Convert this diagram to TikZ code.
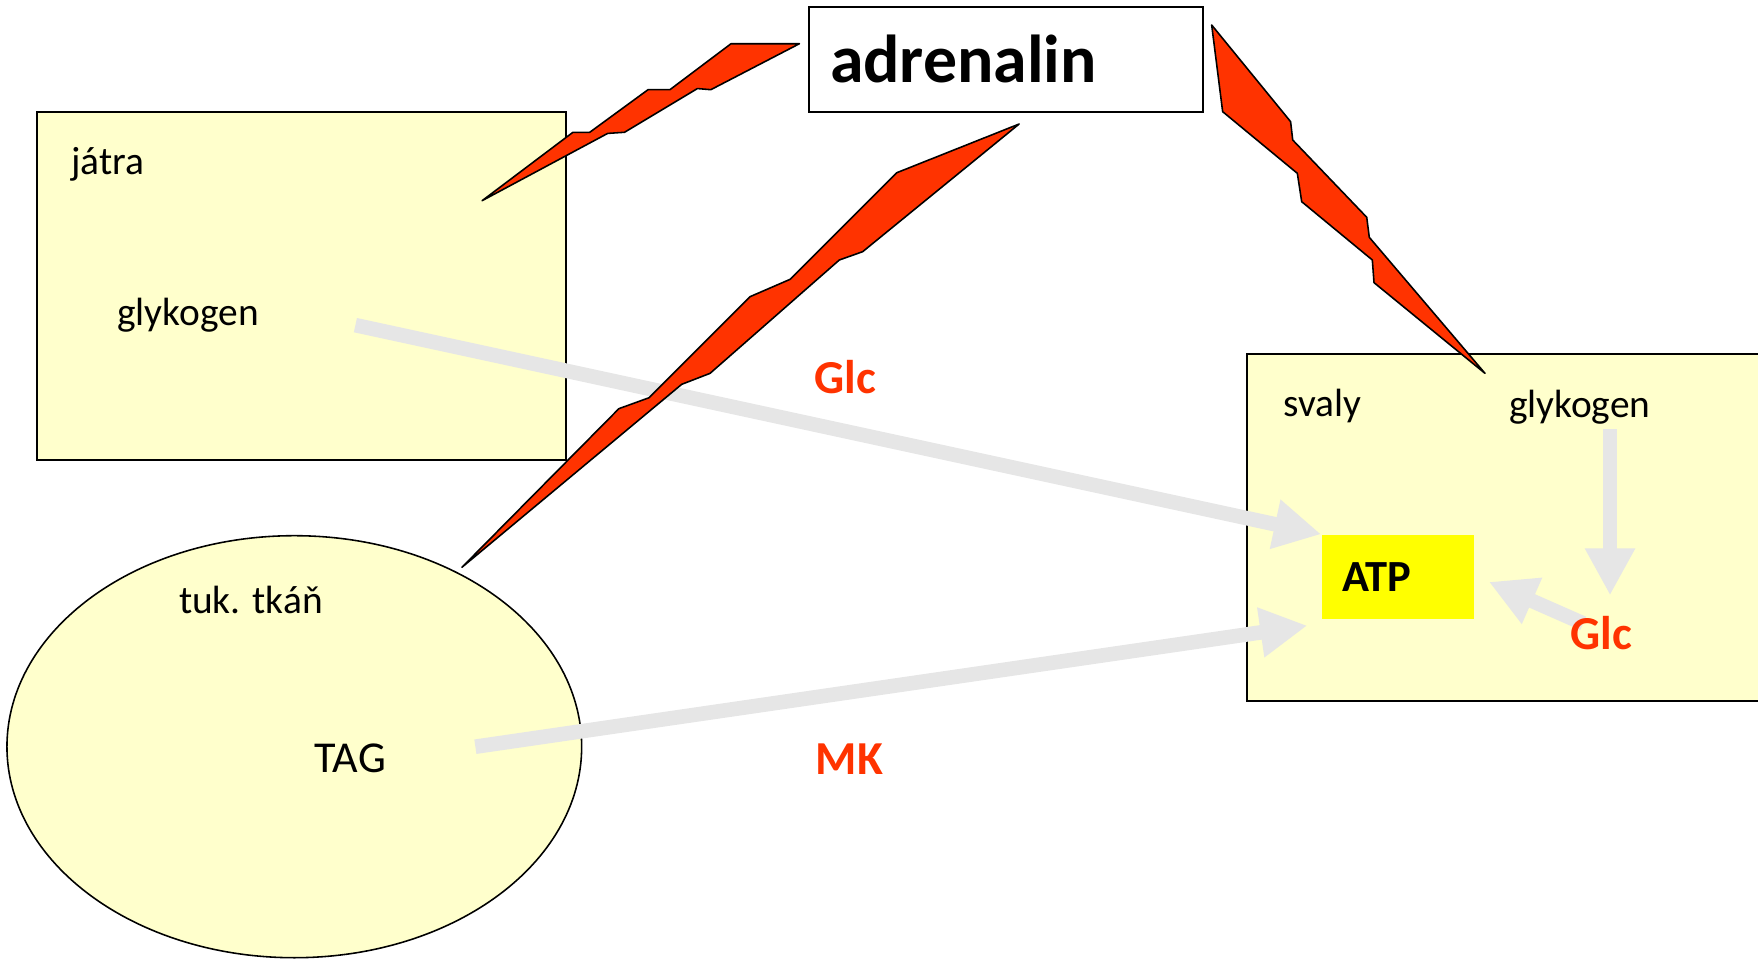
\documentclass[tikz,border=0pt]{standalone}
\usepackage{fontspec}
\setmainfont{Carlito}
\usetikzlibrary{arrows.meta}
\definecolor{organ}{HTML}{FFFFCC}
\definecolor{signal}{HTML}{FF3300}
\definecolor{flow}{HTML}{E6E6E6}
\definecolor{energy}{HTML}{FFFF00}
\begin{document}
\begin{tikzpicture}[y=-1cm,
  organ/.style={draw,line width=0.5pt,fill=organ},
  bolt/.style={draw,line width=0.4pt,fill=signal,line join=round},
  flux/.style={draw=flow,line width=1.3mm,-{Triangle[length=4.2mm,width=4.2mm]}},
  lbl/.style={anchor=base west,inner sep=0pt,font=\fontsize{10}{12}\selectfont},
  mol/.style={anchor=base west,inner sep=0pt,text=signal,font=\bfseries\fontsize{12}{14}\selectfont}]
  \useasboundingbox (0,0) rectangle (15.68,8.55);

  \draw[organ] (0.33,1.00) rectangle (5.05,4.10);
  \draw[organ] (11.12,3.16) rectangle (16.00,6.25);
  \draw[organ,line width=0.4pt] (2.625,6.66) ellipse (2.563 and 1.882);

  \node (atp) [fill=energy,minimum width=1.357cm,minimum height=7.46mm,
    inner xsep=1.8mm,inner ysep=0pt,text width=0.997cm,align=left,
    font=\bfseries\fontsize{11.3}{13}\selectfont] at (12.469,5.145) {ATP};

  \node (jatra) [lbl] at (0.63,1.56) {játra};
  \node (glyk1) [lbl] at (1.04,2.90) {glykogen};
  \node (tuk) [lbl] at (1.59,5.47) {tuk. tkáň};
  \node (tag) [lbl,font=\fontsize{11.2}{13}\selectfont] at (2.80,6.89) {TAG};
  \node (svaly) [lbl] at (11.44,3.716) {svaly};
  \node (glyk2) [lbl] at (13.453,3.72) {glykogen};

  \coordinate (g1) at (3.17,2.90);
  \coordinate (t1) at (4.24,6.66);
  \coordinate (t2) at (11.66,5.58);
  \coordinate (g2) at (14.36,3.83);
  \coordinate (c2) at (14.36,5.31);
  \coordinate (c3) at (14.12,5.56);
  \coordinate (t4) at (13.28,5.19);
  \draw[flux] (g1) -- (atp.north west);
  \draw[flux] (t1) -- (t2);
  \draw[flux] (g2) -- (c2);
  \draw[flux] (c3) -- (t4);

  \node (glc1) [mol] at (7.26,3.51) {Glc};
  \node (mk) [mol] at (7.27,6.91) {MK};
  \node (glc2) [mol] at (14.003,5.797) {Glc};

  \draw[bolt] (4.30,1.79) -- (5.11,1.18) -- (5.26,1.18) -- (5.78,0.80) -- (5.975,0.80)
    -- (6.52,0.39) -- (7.13,0.39) -- (6.34,0.80) -- (6.22,0.79) -- (5.57,1.18) -- (5.42,1.19) -- cycle;
  \draw[bolt] (4.12,5.06) -- (5.52,3.645) -- (5.79,3.547) -- (6.69,2.646) -- (7.05,2.49)
    -- (8.00,1.54) -- (9.09,1.106) -- (7.694,2.245) -- (7.486,2.319) -- (6.333,3.33) -- (6.08,3.428) -- cycle;
  \draw[bolt] (10.807,0.223) -- (11.511,1.085) -- (11.53,1.249) -- (12.19,1.938) -- (12.213,2.117)
    -- (13.245,3.33) -- (12.255,2.521) -- (12.24,2.319) -- (11.61,1.799) -- (11.571,1.546) -- (10.905,0.996) -- cycle;

  \node (adr) [draw,line width=0.5pt,fill=white,anchor=north west,minimum width=3.515cm,
    minimum height=9.37mm,inner xsep=1.9mm,inner ysep=0pt,text width=3.135cm,align=left,
    font=\bfseries\fontsize{17.2}{20}\selectfont] at (7.205,0.05) {adrenalin};
\end{tikzpicture}
\end{document}
